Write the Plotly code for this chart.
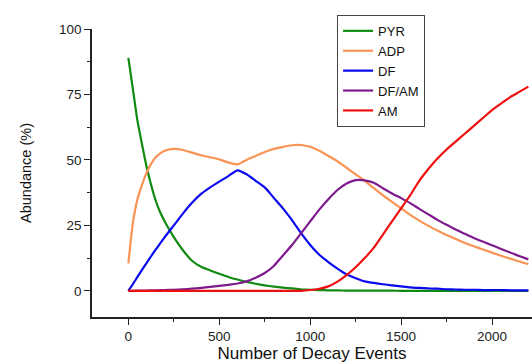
import plotly.graph_objects as go

# Number of decay events
events = [0, 25, 50, 75, 100, 125, 150, 175, 200,
          250, 300, 350, 400, 450, 500, 550, 600, 650, 700,
          750, 800, 850, 900, 950, 1000, 1050, 1100, 1150, 1200,
          1250, 1300, 1350, 1400, 1450, 1500, 1550, 1600, 1650, 1700,
          1750, 1800, 1850, 1900, 1950, 2000, 2050, 2100, 2150, 2200]

pyr = [89, 77, 65, 56, 47.5, 40.5, 34.5, 30, 26.5,
       20.5, 15.5, 11.5, 9.2, 7.8, 6.5, 5.3, 4.3, 3.4, 2.7,
       2.1, 1.6, 1.2, 0.9, 0.6, 0.4, 0.3, 0.2, 0.15, 0.1,
       0.1, 0.1, 0.1, 0.05, 0.05, 0, 0, 0, 0, 0,
       0, 0, 0, 0, 0, 0, 0, 0, 0, 0]

adp = [10.5, 26, 35, 40.5, 45, 48.5, 51, 52.5, 53.5,
       54.2, 53.8, 52.8, 51.8, 51.0, 50.2, 49.0, 48.3, 50.0, 51.5,
       53.0, 54.2, 55.0, 55.6, 55.7, 55.0, 53.5, 51.5, 49.5, 47.0,
       44.5, 42.0, 39.2, 36.5, 34.0, 31.5, 29.0, 26.8, 24.8, 23.0,
       21.3, 19.8, 18.3, 17.0, 15.8, 14.6, 13.4, 12.3, 11.2, 10.2]

df = [0, 2.6, 5.3, 8.0, 10.6, 13.2, 15.7, 18.1, 20.5,
      25.0, 29.5, 33.6, 37.0, 39.5, 41.7, 43.8, 46, 44.5, 42,
      39.5, 35.5, 31.5, 27, 22, 17.5, 13.8, 11, 8.5, 6.3,
      4.8, 3.6, 3, 2.5, 2.1, 1.7, 1.3, 1.1, 0.9, 0.8,
      0.6, 0.5, 0.4, 0.4, 0.3, 0.3, 0.3, 0.2, 0.2, 0.2]

dfam = [0, 0, 0.05, 0.1, 0.1, 0.15, 0.2, 0.25, 0.3,
        0.4, 0.6, 0.8, 1.1, 1.5, 1.9, 2.3, 2.8, 3.6, 5.0,
        6.8, 9.5, 13.5, 17.5, 22, 26.5, 31, 35, 38.5, 41,
        42.3, 42.2, 41.3, 39.2, 37.2, 35.4, 33.5, 31.3, 29.2, 27.1,
        25.2, 23.4, 21.8, 20.2, 18.8, 17.4, 16, 14.6, 13.3, 12]

am = [0, 0, 0, 0, 0, 0, 0, 0, 0,
      0, 0, 0, 0, 0, 0, 0, 0, 0, 0,
      0, 0, 0, 0, 0, 0.3, 0.8, 1.7, 3.5, 6,
      9, 12.5, 16.5, 21.5, 26.5, 31.5, 36.5, 42, 46.5, 50.5,
      54, 57, 60, 63, 66, 69, 71.5, 74, 76, 78]

series_names = ["PYR", "ADP", "DF", "DF/AM", "AM"]
series_values = [pyr, adp, df, dfam, am]
series_colors = ["#108a10", "#fa9455", "#0a0aee", "#7d1a8c", "#ee1010"]

x_ticks = [0, 500, 1000, 1500, 2000]
y_ticks = [0, 25, 50, 75, 100]

fig = go.Figure()
for name, vals, col in zip(series_names, series_values, series_colors):
    fig.add_trace(go.Scatter(
        x=events, y=vals, name=name, mode="lines",
        line=dict(color=col, width=2.2, shape="spline", smoothing=0.6),
    ))

FONT = "Liberation Sans, Arial, sans-serif"
axis_font = dict(family=FONT, size=13.5, color="#222")
fig.update_layout(
    width=532, height=363,
    margin=dict(l=92, r=0, t=29, b=46),
    paper_bgcolor="white", plot_bgcolor="white",
    font=dict(family=FONT, color="#222"),
    showlegend=True,
    legend=dict(
        x=0.557, y=1.049, xanchor="left", yanchor="top",
        bgcolor="white", bordercolor="#444", borderwidth=1,
        font=dict(family=FONT, size=13, color="#111"),
        tracegroupgap=0, itemwidth=30,
    ),
    xaxis=dict(
        range=[-200, 2220], tickvals=x_ticks, ticktext=[str(v) for v in x_ticks],
        showline=True, linecolor="#222", linewidth=1.5, mirror=False,
        ticks="outside", ticklen=6, tickwidth=1.2, tickcolor="#222",
        minor=dict(dtick=250, tick0=0, ticks="outside", ticklen=3, tickwidth=1, tickcolor="#222"),
        showgrid=False, zeroline=False, tickfont=axis_font,
        title=dict(text="Number of Decay Events",
                   font=dict(family=FONT, size=17, color="#111"),
                   standoff=7),
    ),
    yaxis=dict(
        range=[-10, 100], tickvals=y_ticks, ticktext=[str(v) for v in y_ticks],
        showline=True, linecolor="#222", linewidth=1.5, mirror=False,
        ticks="outside", ticklen=6, tickwidth=1.2, tickcolor="#222",
        minor=dict(dtick=12.5, tick0=0, ticks="outside", ticklen=3, tickwidth=1, tickcolor="#222"),
        showgrid=False, zeroline=False, tickfont=axis_font,
        title=dict(text="Abundance (%)",
                   font=dict(family=FONT, size=14.5, color="#111"),
                   standoff=24),
    ),
)

fig.write_html("out.html")
